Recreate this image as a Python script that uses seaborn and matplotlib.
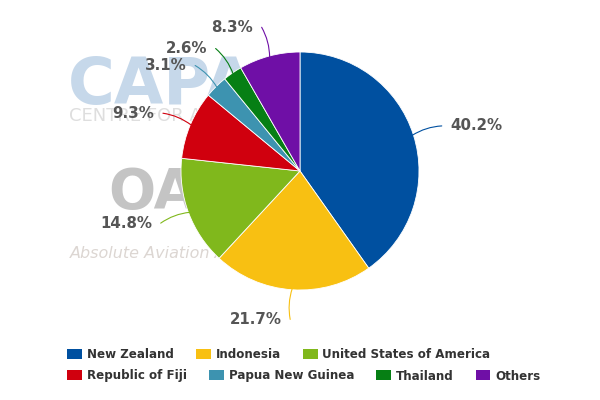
import numpy as np
import matplotlib.pyplot as plt
import seaborn as sns
from matplotlib.patches import Patch

# Data
countries = ['New Zealand', 'Indonesia', 'United States of America',
             'Republic of Fiji', 'Papua New Guinea', 'Thailand', 'Others']
shares = [40.2, 21.7, 14.8, 9.3, 3.1, 2.6, 8.3]
colours = ['#0050a0', '#f8c012', '#80b81c', '#d0000e', '#3d93b0', '#067f14', '#6f0fa6']

sns.set_theme(style='white')
plt.rcParams['font.family'] = ['DejaVu Sans']
palette = sns.color_palette(colours)

fig = plt.figure(figsize=(6, 4), dpi=100)

# faint watermarks behind the pie
fig.text(68/600, 1-104/400, 'CAPA', fontsize=46, fontweight='heavy', color='#c6d8ea', zorder=-5)
fig.text(69/600, 1-121/400, 'CENTRE FOR AVIATION', fontsize=13, color='#dedede', zorder=-5)
fig.text(108/600, 1-208/400, 'OAG', fontsize=40, fontweight='bold', color='#c4c4c4', zorder=-5)
fig.text(70/600, 1-258/400, 'Absolute Aviation Advantage', fontsize=11.5, style='italic',
         color='#dcd6d2', zorder=-5)

# pie: centre (300,171) px, radius 119 px
ax = fig.add_axes([181/600, 110/400, 238/600, 238/400])
wedges, _ = ax.pie(shares, colors=palette, startangle=90, counterclock=False,
                   wedgeprops=dict(edgecolor='white', linewidth=0.6))
ax.set_xlim(-1, 1)
ax.set_ylim(-1, 1)
ax.set_aspect('equal')

for w, v, c in zip(wedges, shares, palette):
    ang = np.deg2rad((w.theta1 + w.theta2) / 2)
    x0, y0 = np.cos(ang), np.sin(ang)
    x1, y1 = 1.25 * x0, 1.25 * y0
    side = 1 if x1 >= 0 else -1
    ax.annotate('', xy=(x1, y1), xytext=(0.99 * x0, 0.99 * y0), annotation_clip=False,
                arrowprops=dict(arrowstyle='-', color=c, lw=0.8, shrinkA=0, shrinkB=0,
                                connectionstyle=f'arc3,rad={-0.13 * side}'))
    ax.text(x1 + side * 0.07, y1, f'{v}%', ha='left' if side > 0 else 'right', va='center',
            fontsize=10.8, fontweight='bold', color='#555555')

# legend laid out in two rows like the original
handles = [Patch(facecolor=c, edgecolor='none') for c in palette]
common = dict(frameon=False, borderpad=0, borderaxespad=0, handlelength=1.25, handleheight=0.9,
              handletextpad=0.4, columnspacing=1.85, loc='center left',
              prop=dict(size=8.6, weight='bold'), labelcolor='#333333')
fig.legend(handles[:3], countries[:3], ncol=3, bbox_to_anchor=(67/600, 1-355/400), **common)
fig.legend(handles[3:], countries[3:], ncol=4, bbox_to_anchor=(67/600, 1-376/400), **common)

fig.savefig('out.png', dpi=100)
